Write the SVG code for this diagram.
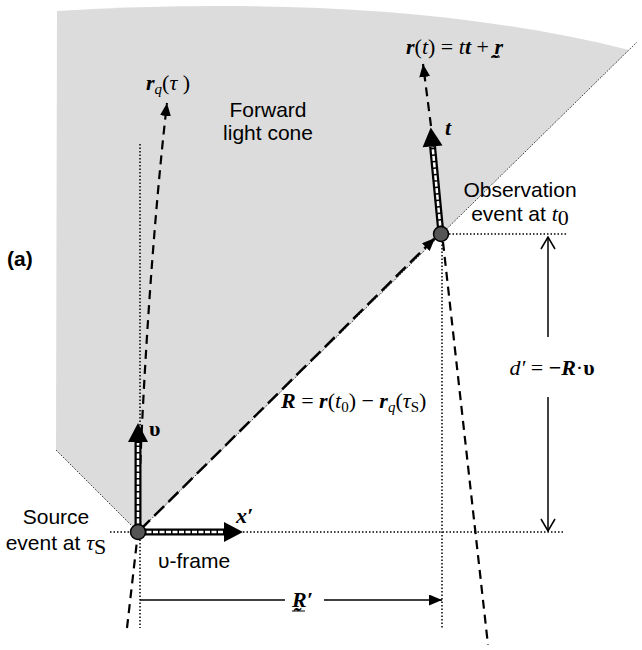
<svg xmlns="http://www.w3.org/2000/svg" width="642" height="650" viewBox="0 0 642 650">
<defs>
<style>
.sans{font-family:"Liberation Sans",Arial,sans-serif;font-size:21px;fill:#000}
.serif{font-family:"Liberation Serif","DejaVu Serif","Times New Roman",serif;font-size:22px;fill:#000}
.bi{font-weight:bold;font-style:italic}
.it{font-style:italic}
.dot{fill:none;stroke:#000;stroke-width:1.5;stroke-dasharray:1.5 2}
.fine{fill:none;stroke:#000;stroke-width:1;stroke-dasharray:1 1.5}
.dash{fill:none;stroke:#000;stroke-width:2.2;stroke-dasharray:9 6}
.thick{fill:none;stroke:#000;stroke-width:7}
.inner{fill:none;stroke:#fff;stroke-width:2.5;stroke-dasharray:5 1.5}
.thin{fill:none;stroke:#000;stroke-width:1.5}
.ul{fill:none;stroke:#000;stroke-width:1}
.ev{fill:#555;stroke:#000;stroke-width:1.5}
</style>
<marker id="ah" markerWidth="13" markerHeight="11" refX="13" refY="5.5" orient="auto" markerUnits="userSpaceOnUse"><path d="M0,0 L13,5.5 L0,11 z" fill="#000"/></marker>
<marker id="oh" markerWidth="14" markerHeight="16" refX="13" refY="8" orient="auto" markerUnits="userSpaceOnUse"><path d="M1,1 L13,8 L1,15" fill="none" stroke="#000" stroke-width="1.5"/></marker>
</defs>

<g id="light-cone">
<path d="M56,450 L57,11 C250,0 450,5 629,50 L138,532 Z" fill="#dcdcdc"/>
<line class="fine" x1="56" y1="450" x2="138" y2="532"/>
<line class="fine" x1="138" y1="532" x2="637" y2="42"/>
</g>

<g id="connectors">
<line class="dot" x1="140" y1="144" x2="140" y2="628"/>
<line class="dot" x1="110" y1="532" x2="565" y2="532"/>
<line class="dot" x1="442" y1="234" x2="567" y2="234"/>
<line class="dot" x1="442" y1="234" x2="442" y2="628"/>
<path class="dash" d="M127,628 L138,532 C140,440 150,250 167,103" marker-end="url(#ah)"/>
<line class="dash" x1="443" y1="242" x2="488" y2="645"/>
<line class="dash" x1="431" y1="126" x2="423" y2="64" marker-end="url(#ah)"/>
<line fill="none" stroke="#000" stroke-width="2.5" stroke-dasharray="14 6" x1="140" y1="530" x2="435" y2="238" marker-end="url(#ah)"/>
<line class="thin" x1="548" y1="337" x2="548" y2="237" marker-end="url(#oh)"/>
<line class="thin" x1="548" y1="397" x2="548" y2="531" marker-end="url(#oh)"/>
<line class="thin" x1="140" y1="600" x2="285" y2="600"/>
<line class="thin" x1="324" y1="600" x2="442" y2="600" marker-end="url(#ah)"/>
</g>

<g id="upsilon-arrow">
<line class="thick" x1="138" y1="532" x2="138" y2="441"/>
<line class="inner" x1="138" y1="530" x2="138" y2="443"/>
<polygon points="138,423 148,442 128,442" fill="#000"/>
</g>
<g id="x-arrow">
<line class="thick" x1="138" y1="532" x2="225" y2="532"/>
<line class="inner" x1="140" y1="532" x2="224" y2="532"/>
<polygon points="243,532 224,522 224,542" fill="#000"/>
</g>
<g id="t-arrow" transform="translate(441,234) rotate(-5.5)">
<line class="thick" x1="0" y1="0" x2="0" y2="-88"/>
<line class="inner" x1="0" y1="-2" x2="0" y2="-87"/>
<polygon points="0,-107 10,-88 -10,-88" fill="#000"/>
</g>

<g id="source-event">
<circle class="ev" cx="138" cy="532" r="7.5"/>
<text class="sans" x="56" y="524" text-anchor="middle">Source</text>
<text class="sans" x="56" y="550" text-anchor="middle">event at <tspan class="serif it">τ</tspan><tspan class="serif" font-size="15" dy="4">S</tspan></text>
</g>
<g id="observation-event">
<circle class="ev" cx="441" cy="234" r="7.5"/>
<text class="sans" x="520" y="197" text-anchor="middle">Observation</text>
<text class="sans" x="520" y="221" text-anchor="middle">event at <tspan class="serif it">t</tspan><tspan class="serif" font-size="15" dy="4">0</tspan></text>
</g>

<g id="labels">
<text class="sans" x="7" y="266" font-weight="bold" font-size="19">(a)</text>
<text class="sans" x="268" y="117" text-anchor="middle">Forward</text>
<text class="sans" x="268" y="140" text-anchor="middle">light cone</text>
<text class="sans" x="158" y="568">υ-frame</text>
<text class="serif" x="146" y="90"><tspan class="bi">r</tspan><tspan class="it" font-size="15" dy="4">q</tspan><tspan dy="-4">(</tspan><tspan class="it">τ </tspan>)</text>
<text class="serif" x="406" y="54"><tspan class="bi">r</tspan>(<tspan class="it">t</tspan>) = <tspan class="it">t</tspan><tspan class="bi">t</tspan> + <tspan class="bi">r̰</tspan></text>
<line class="ul" x1="491" y1="57" x2="500" y2="57"/>
<text class="serif bi" x="445" y="135">t</text>
<text class="serif" x="149" y="436" font-weight="bold">υ</text>
<text class="serif bi" x="236" y="523">x′</text>
<text class="serif" x="281" y="408"><tspan class="bi">R</tspan> = <tspan class="bi">r</tspan>(<tspan class="it">t</tspan><tspan font-size="15" dy="4">0</tspan><tspan dy="-4">) − </tspan><tspan class="bi">r</tspan><tspan class="it" font-size="15" dy="4">q</tspan><tspan dy="-4">(</tspan><tspan class="it">τ</tspan><tspan font-size="15" dy="4">S</tspan><tspan dy="-4">)</tspan></text>
<text class="serif" x="552" y="375" text-anchor="middle"><tspan class="it">d′</tspan> = <tspan font-weight="bold">−</tspan><tspan class="bi">R</tspan>·<tspan font-weight="bold">υ</tspan></text>
<text class="serif bi" x="292" y="607">R̰′</text>
<line class="ul" x1="292" y1="611" x2="305" y2="611"/>
</g>
</svg>
